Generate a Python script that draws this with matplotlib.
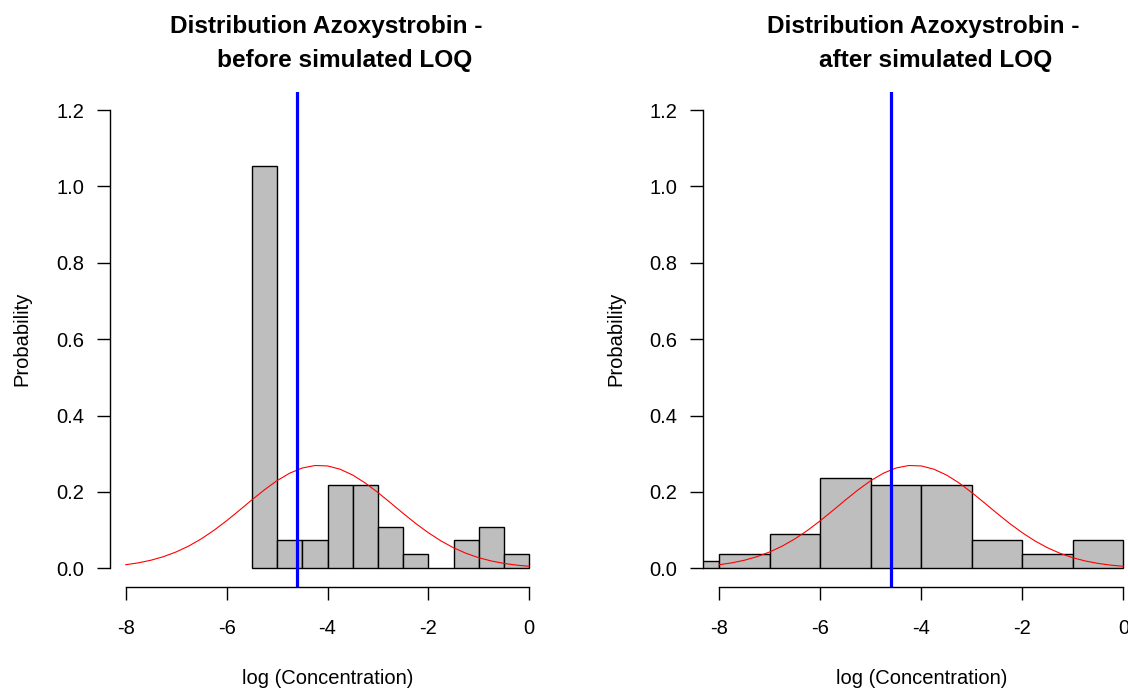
import numpy as np
import matplotlib
matplotlib.use("Agg")
import matplotlib.pyplot as plt

plt.rcParams['font.family'] = ['Liberation Sans', 'DejaVu Sans']
plt.rcParams['axes.unicode_minus'] = False

# histogram data (counts per bin), n = 55 samples
n_samples = 55
before_breaks = [-5.5, -5.0, -4.5, -4.0, -3.5, -3.0, -2.5, -2.0, -1.5, -1.0, -0.5, 0.0]
before_counts = [29, 2, 2, 6, 6, 3, 1, 0, 2, 3, 1]
after_breaks = [-9, -8, -7, -6, -5, -4, -3, -2, -1, 0]
after_counts = [1, 2, 5, 13, 12, 12, 4, 2, 4]

# fitted normal density
curve_x = [-8.0, -7.75, -7.5, -7.25, -7.0, -6.75, -6.5, -6.25, -6.0, -5.75,
           -5.5, -5.25, -5.0, -4.75, -4.5, -4.25, -4.0, -3.75, -3.5, -3.25,
           -3.0, -2.75, -2.5, -2.25, -2.0, -1.75, -1.5, -1.25, -1.0, -0.75,
           -0.5, -0.25, 0.0]
curve_y = [0.0093, 0.0142, 0.0211, 0.0305, 0.0428, 0.0583, 0.0772, 0.0995,
           0.1245, 0.1514, 0.179, 0.2055, 0.2295, 0.249, 0.2626, 0.2691,
           0.268, 0.2594, 0.2441, 0.2232, 0.1983, 0.1713, 0.1438, 0.1172,
           0.093, 0.0716, 0.0536, 0.039, 0.0276, 0.019, 0.0127, 0.0082, 0.0052]

loq = np.log(0.01)

titles = ["before simulated LOQ", "after simulated LOQ"]

W, H = 1128, 688
fig = plt.figure(figsize=(W / 100, H / 100), dpi=100)


def make_axes(x0, x1, ytop, ybot):
    return fig.add_axes([x0 / W, 1 - ybot / H, (x1 - x0) / W, (ybot - ytop) / H])


ax1 = make_axes(109.6, 545.4, 91.7, 586.6)
ax2 = make_axes(703.1, 1139.5, 91.7, 586.6)

panels = [(ax1, before_breaks, before_counts), (ax2, after_breaks, after_counts)]
for ax, breaks, counts in panels:
    widths = np.diff(breaks)
    dens = np.array(counts) / (n_samples * widths)
    ax.bar(breaks[:-1], dens, width=widths, align='edge',
           color='#BEBEBE', edgecolor='black', linewidth=1.0)
    ax.plot(curve_x, curve_y, color='red', linewidth=0.8)
    ax.axvline(loq, color='blue', linewidth=2.3)

    ax.set_xlim(-8.32, 0.32)
    ax.set_ylim(-0.048, 1.248)
    for side in ['top', 'right']:
        ax.spines[side].set_visible(False)
    ax.spines['left'].set_bounds(0, 1.2)
    ax.spines['bottom'].set_bounds(-8, 0)
    for side in ['left', 'bottom']:
        ax.spines[side].set_linewidth(1.0)
    ax.set_xticks([-8, -6, -4, -2, 0])
    ax.set_xticklabels(['-8', '-6', '-4', '-2', '0'])
    ax.set_yticks([0, 0.2, 0.4, 0.6, 0.8, 1.0, 1.2])
    ax.set_yticklabels(['0.0', '0.2', '0.4', '0.6', '0.8', '1.0', '1.2'])
    ax.tick_params(axis='both', direction='out', length=9.5, width=1.0,
                   labelsize=14.5, colors='black')
    ax.tick_params(axis='x', pad=14)
    ax.tick_params(axis='y', pad=9)

    ax.set_xlabel('log (Concentration)', fontsize=14.5)
    ax.xaxis.label.set_va('baseline')
    ax.xaxis.set_label_coords(0.5, -(684 - 586.6) / 494.9)
    ax.set_ylabel('Probability', fontsize=14.5)
    ax.yaxis.label.set_va('center')
    ax.yaxis.set_label_coords((22 - 109.6) / 435.8, 0.5)

# two-line titles
title_centers = [(326.0, 345.0), (923.0, 936.0)]
for (c1, c2), sub in zip(title_centers, titles):
    fig.text(c1 / W, 1 - 33.3 / H, 'Distribution Azoxystrobin -', ha='center',
             va='baseline', fontsize=17.6, fontweight='bold')
    fig.text(c2 / W, 1 - 66.7 / H, sub, ha='center', va='baseline',
             fontsize=17.6, fontweight='bold')

fig.savefig('out.png', dpi=100)
